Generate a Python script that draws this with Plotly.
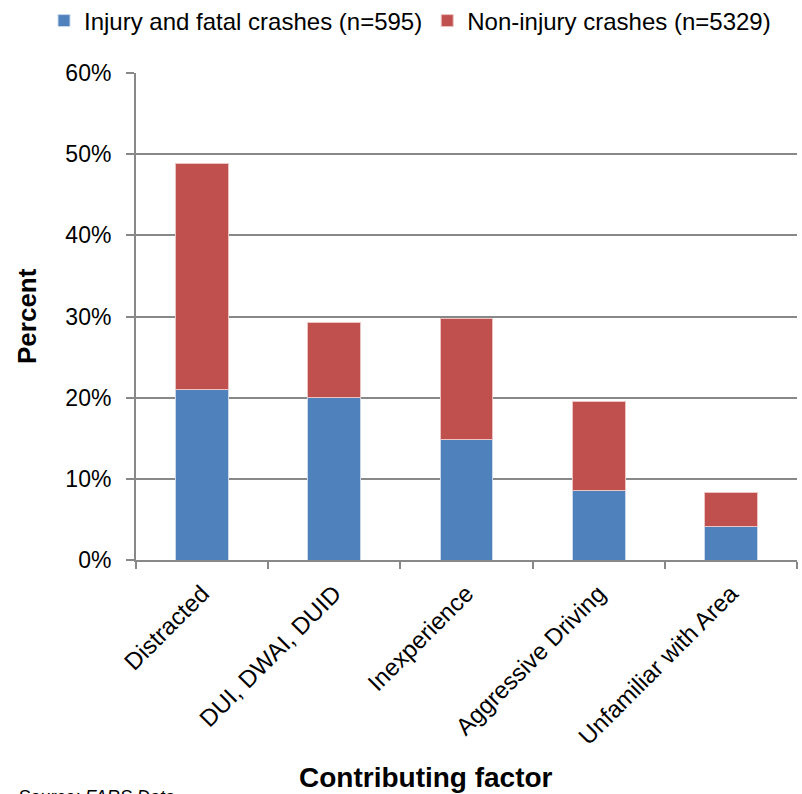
import plotly.graph_objects as go

categories = ["Distracted", "DUI, DWAI, DUID", "Inexperience", "Aggressive Driving", "Unfamiliar with Area"]
injury_fatal = [21.0, 20.0, 14.9, 8.6, 4.1]
non_injury = [27.8, 9.2, 14.8, 10.9, 4.2]
series_names = ["Injury and fatal crashes (n=595)", "Non-injury crashes (n=5329)"]
y_ticks = [0, 10, 20, 30, 40, 50, 60]
y_tick_labels = ["0%", "10%", "20%", "30%", "40%", "50%", "60%"]

FONT = "Liberation Sans, Arial"
GRID = "#888888"

W, H = 802, 794
L, R, T, B = 136, 5, 73, 234
PW, PH = W - L - R, H - T - B


def px(xp):
    return (xp - L) / PW


def py(yp):
    return (H - B - yp) / PH


fig = go.Figure()
fig.add_trace(go.Bar(x=categories, y=injury_fatal, name=series_names[0],
                     marker=dict(color="#4F81BD", line=dict(color="#C9D8EA", width=1)), width=0.4))
fig.add_trace(go.Bar(x=categories, y=non_injury, name=series_names[1],
                     marker=dict(color="#C0504D", line=dict(color="#EBC4C3", width=1)), width=0.4))

fig.update_layout(
    barmode="stack",
    width=W, height=H,
    margin=dict(l=L, r=R, t=T, b=B, autoexpand=False),
    paper_bgcolor="white", plot_bgcolor="white",
    font=dict(family=FONT, size=20, color="black"),
    showlegend=True,
    legend=dict(orientation="h", xref="paper", yref="paper",
                x=px(44), xanchor="left", y=py(21), yanchor="middle",
                font=dict(size=24), traceorder="normal", itemwidth=30,
                bgcolor="rgba(0,0,0,0)"),
    xaxis=dict(showline=True, linecolor=GRID, linewidth=2, tickangle=-45,
               ticks="outside", ticklen=7, tickcolor=GRID, tickwidth=2,
               tickson="boundaries", showgrid=False, ticklabelstandoff=8,
               automargin=False, tickfont=dict(size=24, family=FONT)),
    yaxis=dict(range=[0, 60], tickvals=y_ticks, ticktext=y_tick_labels,
               showline=True, linecolor=GRID, linewidth=2,
               ticks="outside", ticklen=8, tickcolor=GRID, tickwidth=2,
               showgrid=True, gridcolor=GRID, gridwidth=1.5, ticklabelstandoff=10,
               automargin=False, zeroline=False, tickfont=dict(size=23, family=FONT)),
    annotations=[
        dict(text="<b>Percent</b>", xref="paper", yref="paper",
             x=px(27), y=py(316), textangle=-90, showarrow=False,
             font=dict(size=26, family=FONT), xanchor="center", yanchor="middle"),
        dict(text="<b>Contributing factor</b>", xref="paper", yref="paper",
             x=px(426), y=py(777), showarrow=False,
             font=dict(size=28, family=FONT), xanchor="center", yanchor="middle"),
        dict(text="<i>Source: FARS Data</i>", xref="paper", yref="paper",
             x=px(16), y=py(785), showarrow=False,
             font=dict(size=18, family=FONT), xanchor="left", yanchor="top"),
    ],
)

fig.write_html("out.html")
